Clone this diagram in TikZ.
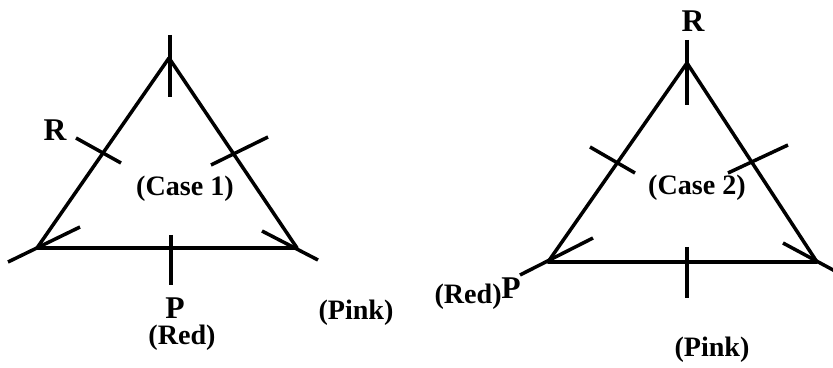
\documentclass[tikz,border=0pt]{standalone}
\usepackage{fontspec}
\setmainfont{Liberation Serif}
\usetikzlibrary{calc}

\begin{document}
\begin{tikzpicture}[x=0.02cm, y=-0.02cm,
  side/.style={line width=2pt, line cap=round, line join=round},
  tick/.style={line width=2pt},
  vlabel/.style={font=\fontsize{18}{20}\selectfont\bfseries, inner sep=0pt},
  clabel/.style={font=\fontsize{16}{18}\selectfont\bfseries, inner sep=0pt}
]
\useasboundingbox (0,0) rectangle (833,368);
% Case 1
\coordinate (top1)   at (169,58);
\coordinate (left1)  at (37,248);
\coordinate (right1) at (297,248);
\draw[side] (top1) -- (left1) -- (right1) -- cycle;
\draw[tick] (170,35)  -- (170,97);
\draw[tick] (76,138)  -- (121,163);
\draw[tick] (211,165) -- (268,137);
\draw[tick] (8,262)   -- (80,227);
\draw[tick] (262,231) -- (318,260);
\draw[tick] (171,235) -- (171,285);
\node[vlabel] (r1)    at (55,130)  {R};
\node[vlabel] (p1)    at (175,308) {P};
\node[clabel] (red1)  at (182,338) {(Red)};
\node[clabel] (pink1) at (356,313) {(Pink)};
\node[clabel] (case1) at (185,189) {(Case 1)};
% Case 2
\coordinate (top2)   at (687,63);
\coordinate (left2)  at (548,262);
\coordinate (right2) at (817,262);
\draw[side] (top2) -- (left2) -- (right2) -- cycle;
\draw[tick] (687,40)  -- (687,105);
\draw[tick] (590,147) -- (635,173);
\draw[tick] (728,173) -- (788,145);
\draw[tick] (520,275) -- (593,238);
\draw[tick] (783,243) -- (835,271);
\draw[tick] (687,247) -- (687,298);
\node[vlabel] (r2)    at (693,21)  {R};
\node[vlabel] (p2)    at (511,288) {P};
\node[clabel, anchor=east] (red2) at (502,297) {(Red)};
\node[clabel] (pink2) at (712,350) {(Pink)};
\node[clabel] (case2) at (697,188) {(Case 2)};
\end{tikzpicture}
\end{document}
